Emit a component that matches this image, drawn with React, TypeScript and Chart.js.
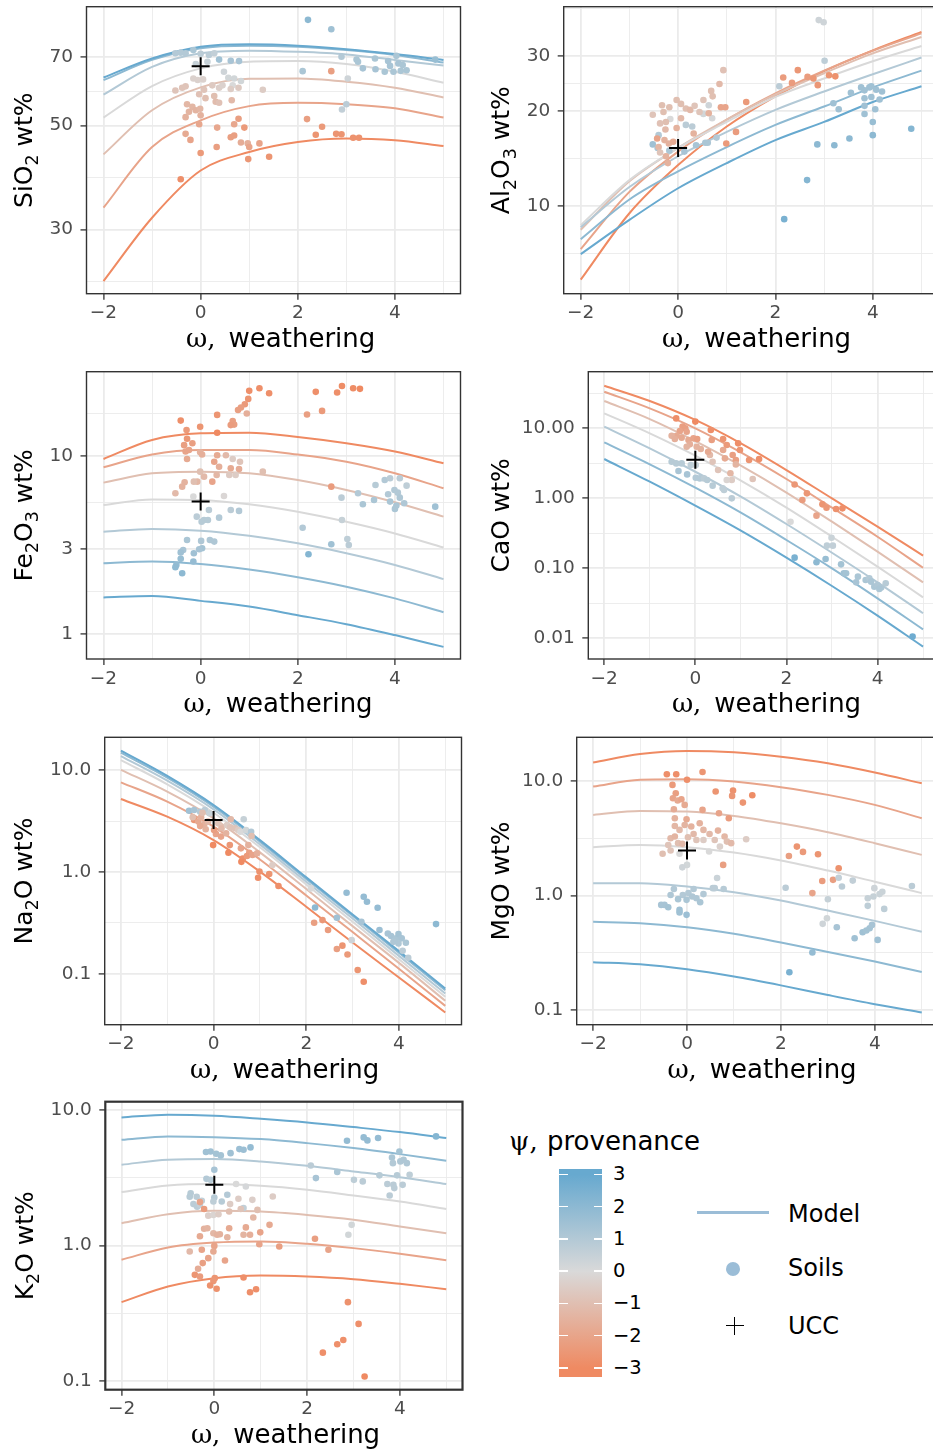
import React, { useEffect, useRef } from "react";
import { Chart, registerables } from "chart.js";
Chart.register(...registerables);

// ---------------- data ----------------
const OMEGA = [-2, -1, 0, 1, 2, 3, 4, 5];
const PSI_LEVELS = [-3, -2, -1, 0, 1, 2, 3];
const X_TICKS = [-2, -1, 0, 1, 2, 3, 4, 5];
const X_TICK_LABELS = ["\u22122", "", "0", "", "2", "", "4", ""];
const PSI_BAR_TICKS = [3, 2, 1, 0, -1, -2, -3];
const PSI_BAR_LABELS = ["3", "2", "1", "0", "\u22121", "\u22122", "\u22123"];
const UCC = [66.9, 15.3, 5.55, 3.55, 3.25, 2.47, 2.8];

// model curves: one row per PSI_LEVELS entry, one value per OMEGA entry
const SIO2_MODEL = [
  [23.3, 31.8, 40.1, 43.9, 46.1, 46.9, 46.5, 45.2],
  [33.4, 45.0, 51.3, 55.0, 55.9, 55.5, 54.4, 52.0],
  [43.4, 53.9, 60.3, 62.9, 63.0, 62.0, 60.2, 57.4],
  [52.0, 60.7, 66.2, 68.4, 68.6, 67.6, 65.1, 61.7],
  [58.2, 66.7, 71.3, 72.2, 71.8, 70.9, 69.0, 67.1],
  [62.5, 69.0, 73.1, 74.0, 73.6, 72.4, 70.7, 68.1],
  [63.3, 69.5, 73.6, 74.5, 74.0, 72.7, 71.0, 69.0],
];
const AL2O3_MODEL = [
  [5.85, 9.5, 13.5, 17.9, 22.3, 26.8, 31.2, 35.7],
  [7.31, 11.1, 14.9, 18.8, 22.8, 26.9, 31.1, 35.3],
  [8.42, 12.0, 15.3, 18.8, 22.6, 26.4, 30.5, 34.4],
  [8.71, 12.1, 15.3, 18.5, 22.2, 25.4, 28.8, 32.2],
  [8.58, 11.5, 14.4, 17.2, 20.2, 23.1, 26.2, 29.6],
  [7.86, 10.5, 12.9, 15.4, 18.1, 20.7, 23.8, 26.9],
  [7.05, 9.05, 11.4, 13.7, 16.2, 18.5, 21.4, 24.0],
];
const FE2O3_MODEL = [
  [9.62, 12.3, 13.4, 13.5, 12.8, 11.8, 10.6, 9.1],
  [8.64, 10.2, 10.8, 10.8, 10.2, 9.29, 8.0, 6.59],
  [7.09, 8.0, 8.17, 8.0, 7.33, 6.45, 5.5, 4.57],
  [5.31, 5.71, 5.67, 5.36, 4.87, 4.28, 3.68, 3.07],
  [3.76, 3.9, 3.81, 3.57, 3.24, 2.85, 2.45, 2.04],
  [2.5, 2.56, 2.48, 2.31, 2.09, 1.85, 1.59, 1.33],
  [1.61, 1.64, 1.54, 1.43, 1.28, 1.14, 0.99, 0.85],
];
const CAO_MODEL = [
  [40.7, 24.6, 13.2, 6.11, 2.54, 1.0, 0.394, 0.152],
  [33.4, 19.3, 10.0, 4.54, 1.89, 0.736, 0.283, 0.102],
  [24.6, 13.6, 6.59, 2.93, 1.21, 0.464, 0.173, 0.063],
  [16.4, 8.48, 4.07, 1.79, 0.736, 0.283, 0.106, 0.0385],
  [10.6, 5.18, 2.4, 1.06, 0.43, 0.167, 0.063, 0.0228],
  [6.31, 3.06, 1.42, 0.624, 0.254, 0.1, 0.0373, 0.0134],
  [3.65, 1.73, 0.786, 0.345, 0.142, 0.0559, 0.0211, 0.0076],
];
const NA2O_MODEL = [
  [5.22, 3.5, 2.06, 1.01, 0.456, 0.203, 0.092, 0.0417],
  [7.62, 4.92, 2.79, 1.33, 0.589, 0.257, 0.112, 0.0484],
  [10.1, 6.17, 3.37, 1.56, 0.681, 0.294, 0.128, 0.0543],
  [12.6, 7.28, 3.83, 1.75, 0.756, 0.325, 0.139, 0.0594],
  [13.8, 7.91, 4.13, 1.87, 0.803, 0.35, 0.15, 0.064],
  [14.9, 8.47, 4.39, 1.99, 0.853, 0.372, 0.161, 0.0691],
  [15.6, 8.8, 4.56, 2.06, 0.886, 0.383, 0.167, 0.0717],
];
const MGO_MODEL = [
  [14.4, 17.1, 18.2, 17.7, 16.2, 14.2, 11.8, 9.51],
  [8.9, 10.2, 10.3, 9.83, 8.78, 7.53, 6.16, 4.72],
  [5.04, 5.46, 5.39, 4.94, 4.26, 3.56, 2.86, 2.26],
  [2.64, 2.76, 2.64, 2.37, 2.02, 1.65, 1.32, 1.05],
  [1.28, 1.28, 1.2, 1.07, 0.905, 0.74, 0.602, 0.483],
  [0.59, 0.574, 0.53, 0.464, 0.39, 0.323, 0.266, 0.216],
  [0.263, 0.252, 0.228, 0.197, 0.165, 0.136, 0.113, 0.0957],
];
const K2O_MODEL = [
  [0.382, 0.498, 0.574, 0.6, 0.59, 0.564, 0.521, 0.476],
  [0.784, 0.967, 1.05, 1.07, 1.03, 0.956, 0.868, 0.779],
  [1.46, 1.7, 1.8, 1.78, 1.68, 1.55, 1.38, 1.23],
  [2.48, 2.77, 2.84, 2.76, 2.58, 2.34, 2.11, 1.86],
  [3.94, 4.29, 4.34, 4.17, 3.87, 3.52, 3.19, 2.84],
  [6.02, 6.38, 6.3, 6.09, 5.69, 5.23, 4.72, 4.22],
  [8.8, 9.21, 9.06, 8.61, 8.09, 7.47, 6.86, 6.2],
];

type Soil = [number, number, number]; // [omega, wt%, psi]

const SIO2_SOILS: Soil[] = [
  [2.21,84.0,2],[2.69,80.2,1.5],[-0.52,71.3,1],[-0.41,71.5,1],[-0.31,71.3,1],[-0.15,72.4,1.2],[0,71.1,0.8],[0.17,70.7,0.8],[0.28,71.3,0.6],[0.38,69.1,1.5],[0.62,68.7,1.3],[0.79,68.6,1.3],[-0.1,67.6,0.5],[0.14,68.4,0.5],[2.1,65.3,1.2],[2.69,65.3,-2.2],[3.03,63.0,0.3],[2.9,70.1,1],[3.21,69.1,1.2],[3.24,68.4,1.2],[3.34,66.2,1.3],[3.59,69.5,1.2],[3.6,65.9,1.3],[3.79,65.1,1.2],[3.86,68.6,1.3],[3.9,67.0,1.3],[3.97,65.1,1.2],[4.03,70.4,1.2],[4.07,67.8,1.3],[4.12,65.4,1.2],[4.16,67.3,1.2],[4.24,65.6,1.2],[4.83,69.1,1.7],[3.0,55.5,0.8],[2.91,54.1,0.6],[0.48,65.1,0.3],[0.57,63.2,0.2],[0.69,63.0,0.2],[0.83,62.2,0.2],[0.66,60.9,0],[-0.52,59.4,-0.8],[-0.38,60.2,-0.8],[-0.31,60.6,-0.8],[-0.15,63.0,-0.3],[-0.06,62.5,-0.3],[0.05,62.7,-0.3],[0.07,59.6,-0.8],[0.24,60.9,-0.6],[0.38,60.2,-0.4],[0.45,60.9,-0.3],[0.62,59.8,-0.5],[0.78,60.2,-0.6],[1.28,59.6,-0.5],[-0.03,58.3,-0.9],[0.1,57.2,-1],[0.28,57.8,-1],[0.31,56.2,-1.1],[0.38,55.9,-0.9],[0.64,56.6,-1.2],[-0.28,55.5,-1.3],[-0.17,54.8,-1.3],[-0.24,53.5,-1.4],[-0.31,52.1,-1.5],[-0.1,53.9,-1.4],[-0.01,54.3,-1.3],[0,52.6,-1.5],[-0.03,50.3,-1.9],[0.34,49.5,-1.9],[0.69,50.3,-1.9],[0.78,51.7,-2.2],[0.9,49.5,-2.4],[-0.31,48.0,-1.8],[-0.21,46.6,-2],[0.62,47.2,-2.2],[0.69,47.6,-2.2],[0.83,46.0,-1.7],[0.97,45.8,-1.6],[1.0,45.0,-2],[1.21,45.8,-2],[0.33,45.0,-2.2],[0,43.7,-2.4],[0.98,42.4,-2.5],[1.41,42.9,-2.6],[-0.41,38.4,-2.8],[2.19,51.6,-2.2],[2.5,49.7,-2.4],[2.37,47.8,-2.6],[2.79,48.0,-2.6],[2.9,47.9,-2.6],[3.14,47.1,-2.7],[3.26,47.1,-2.7],
];
const AL2O3_SOILS: Soil[] = [
  [2.89,38.9,0.3],[2.99,38.3,0.3],[3.01,28.9,0.7],[2.08,24.0,0.8],[3.19,21.2,1.5],[3.3,20.3,1.5],[3.55,22.9,1.5],[3.76,23.8,1.5],[3.83,23.3,1.5],[3.93,23.8,1.5],[3.97,24.0,1.5],[4.07,23.4,1.5],[4.19,23.1,1.5],[3.83,22.0,1.5],[3.97,22.2,1.5],[4.14,21.8,1.5],[4.05,20.3,1.5],[3.83,20.8,1.5],[3.83,19.6,1.5],[4.0,18.5,1.7],[4.0,16.8,2],[3.52,16.4,2],[3.21,15.6,2],[2.86,15.7,2],[4.79,17.6,2.2],[2.65,12.1,2.2],[2.18,9.1,2.5],
  [-0.52,15.7,1.5],[-0.42,15.3,1.3],[-0.4,16.8,1.0],[-0.18,15.0,1.2],[0.13,14.9,1.3],[0.16,18.1,0.8],[0.29,17.9,0.8],[0.37,15.6,1.3],[0.56,15.9,1.2],[0.61,15.9,1.2],[0.79,16.5,1.0],[0.63,20.9,0.3],[0.52,19.6,0.2],[0.7,19.0,0.1],[-0.16,18.9,0],
  [-0.52,19.5,-0.8],[-0.33,20.9,-1],[-0.3,19.9,-1],[-0.18,20.6,-1],[-0.25,18.5,-1],[-0.37,18.3,-0.9],[-0.26,17.5,-1.2],[-0.43,16.4,-2],[-0.28,16.2,-1.5],[-0.19,15.8,-1.5],[-0.25,14.4,-1.5],[-0.21,13.7,-1.5],[-0.03,21.7,-1],[0.06,21.1,-1],[0.16,20.4,-1],[0.25,20.2,-1.2],[0.34,20.8,-0.8],[0.44,19.9,-0.8],[0.52,21.7,-0.8],[0.68,23.2,-1],[0.71,22.3,-1],[0.85,24.4,-1.2],[0.93,27.0,-0.9],[0.88,20.6,-2],[0.97,20.6,-2],[0.99,15.8,-2.4],[1.19,17.2,-2.3],[1.4,21.4,-2.4],[-0.03,17.7,-1.5],[0.06,19.0,-1.2],[0.32,17.0,-1.5],[0.63,19.7,-1.5],[-0.1,16.0,-1.8],[-0.4,15.4,-1.3],[-0.37,14.8,-0.8],
  [2.16,25.6,-2.3],[2.34,24.6,-2.3],[2.46,27.0,-2.5],[2.66,25.7,-2.3],[2.78,25.4,-2.5],[2.87,24.2,-2.5],[3.1,26.0,-2.6],[3.23,25.8,-2.7],
];
const FE2O3_SOILS: Soil[] = [
  [1.0,23.2,-2.8],[1.21,24.0,-2.8],[1.41,22.5,-2.8],[0.98,20.9,-2.6],[0.91,19.5,-2.4],[0.83,18.7,-2.2],[0.77,18.1,-2.2],[0.95,17.3,-1.6],[0.66,15.7,-2.2],[0.69,15.0,-2.2],[0.62,14.9,-2.3],[0.34,17.0,-2.6],[-0.01,14.6,-2.6],[-0.41,15.8,-2.8],[-0.29,14.0,-2.4],[0.34,13.5,-3],
  [2.37,22.9,-2.8],[2.5,17.9,-2.4],[2.81,22.7,-2.8],[2.91,24.7,-2.9],[3.14,24.0,-2.9],[3.28,23.8,-3],[2.19,17.1,-2.2],[2.69,6.73,-2.3],
  [-0.34,11.5,-2.2],[-0.28,12.5,-2.5],[-0.17,11.8,-2.2],[-0.24,10.8,-2],[-0.31,10.6,-2],[-0.01,10.5,-1.5],[-0.28,9.62,-1.8],[0.03,10.2,-1.6],[0.34,10.1,-1.8],[0.52,10.1,-1.2],[0.28,9.29,-2],[0.38,8.71,-1.6],[0.62,8.53,-1.8],[0.79,8.46,-1.7],[0.66,9.62,-0.5],[0.81,9.29,-0.8],[0.33,7.83,-1.3],[0.07,7.66,-1.2],[-0.01,8.17,-1.0],[-0.07,7.18,-1.3],[-0.14,7.18,-1],[-0.33,7.12,-1.5],[-0.38,6.73,-1.5],[-0.52,6.18,-1.2],[0.24,7.18,-2],[1.28,8.17,-1.0],[0.59,7.83,-0.6],[0.72,7.83,-0.5],
  [-0.15,5.92,0],[0.48,5.97,-0.1],[0.62,4.98,0.8],[0.79,4.92,1.0],[0.17,4.98,0.8],[-0.08,4.57,0.8],[0.07,4.38,0.9],[0.15,4.38,0.9],[0.02,4.28,0.9],[0.38,4.51,1.0],[-0.28,3.38,1.2],[0.01,3.34,1.1],[0.19,3.38,1.1],[0.28,3.31,1.1],[0.03,3.04,1.4],[-0.03,3.0,1.3],[-0.14,2.85,1.5],[-0.36,2.97,1.3],[-0.41,2.88,1.5],[-0.41,2.65,1.7],[-0.5,2.45,1.8],[-0.52,2.38,1.9],[-0.38,2.2,2.0],[-0.15,2.56,1.8],
  [3.79,7.33,1.0],[3.9,7.5,0.8],[3.6,6.88,0.9],[4.1,7.5,0.8],[4.24,6.82,0.7],[3.86,6.1,1.0],[3.99,6.45,1.0],[4.06,6.23,1.0],[4.1,5.84,1.1],[3.9,5.55,1.2],[4.03,5.27,1.2],[4.0,5.05,1.2],[4.19,5.43,1.1],[3.57,5.67,1.2],[3.34,5.36,1.2],[3.24,6.18,1.0],[2.9,5.84,0.8],[4.83,5.2,1.5],[2.1,3.96,1.0],[2.91,4.38,0.5],[2.69,3.2,1.5],[3.02,3.42,0.7],[3.05,3.17,0.8],[2.22,2.81,2.2],
];
const CAO_SOILS: Soil[] = [
  [-0.42,13.9,-2.8],[0,12.5,-3],[-0.28,10.6,-2.2],[-0.22,10.0,-2.2],[-0.19,8.96,-2],[-0.34,9.16,-2],[-0.41,7.86,-1.8],[-0.52,7.86,-1.5],[-0.45,7.04,-1.6],[-0.3,7.36,-1.8],[-0.15,6.81,-1.8],[-0.04,7.2,-2],[0.04,7.04,-2.2],[-0.12,5.91,-1.6],[-0.19,5.47,-1.4],[0.03,5.47,-1.5],[0.12,5.07,-1.5],[0.34,9.47,-2.8],[0.36,6.81,-2.2],[0.61,7.04,-2.6],[0.69,5.78,-2.4],[0.61,4.9,-1.8],[0.94,6.11,-2.8],[0.98,4.9,-2.6],[0.82,4.16,-2.2],[0.32,4.16,-1.2],[0.28,4.64,-1.8],[0.65,3.73,-1.8],[0.89,3.53,-2.2],[0.89,3.06,-1.4],[1.18,3.53,-2.6],[1.4,3.65,-2.8],[0.38,3.34,-0.8],[0.5,2.54,-0.8],[0.77,2.28,-1.3],[1.26,1.89,-0.8],[0.8,1.83,-0.5],[0.69,1.83,-0.2],
  [-0.52,3.34,0.9],[-0.42,3.16,0.9],[-0.3,3.16,0.9],[-0.37,2.46,1.3],[-0.18,2.2,1.3],[-0.1,2.99,0.7],[0.01,2.99,0.5],[0.01,1.97,1.0],[0.1,1.93,1.0],[0.19,1.93,0.8],[0.26,1.83,0.9],[0.38,1.52,0.9],[0.6,1.39,0.7],[0.63,1.32,0.7],[0.8,1.0,0.8],
  [2.18,1.58,-2.5],[2.35,0.947,-2.3],[2.45,1.18,-2.5],[2.66,0.566,-2.0],[2.79,0.821,-2.6],[2.88,0.736,-2.5],[3.09,0.704,-2.7],[3.23,0.72,-2.8],
  [2.09,0.464,0.0],[2.18,0.142,2.5],[2.66,0.122,2.0],[2.86,0.136,1.7],[2.89,0.211,0.7],[2.99,0.274,0.4],[3.02,0.211,0.6],[3.2,0.114,1.4],[3.26,0.0848,1.5],[3.31,0.0848,1.4],[3.53,0.063,1.3],[3.57,0.076,1.2],[3.74,0.068,1.2],[3.82,0.072,1.0],[3.86,0.0645,1.2],[3.93,0.0547,1.2],[4.0,0.0578,1.1],[4.08,0.053,1.1],[4.18,0.061,0.9],[4.77,0.0106,2.8],[4.04,0.0508,1.2],
];
const NA2O_SOILS: Soil[] = [
  [-0.53,4.01,1.5],[-0.42,4.07,1.3],[-0.29,3.92,1.0],[-0.19,4.07,0.8],[-0.09,3.78,0.5],[-0.42,3.25,-2.5],[-0.33,3.13,-1.8],[-0.27,3.45,-1.5],[-0.2,2.97,-1.5],[-0.12,3.13,-1.2],[-0.45,3.45,-1.0],[-0.29,2.83,-1.8],[-0.17,2.63,-1.5],[-0.24,3.83,-1.0],[0.1,3.01,-0.8],[0.17,2.69,-1.2],[0.29,2.9,-0.5],[0.37,3.3,-1.2],[0.36,2.75,-0.8],[0.46,2.69,-0.8],[0.53,2.59,-0.5],[0.58,2.49,0.0],[0.65,3.3,0.5],[0.7,2.59,0.2],[0.81,2.49,1.0],[0.82,2.26,-1.0],[0.05,2.37,-2.0],[0.16,2.23,-2.0],[0.27,2.4,-1.5],[0.01,2.59,-2.2],[-0.01,1.84,-3],[0.35,1.84,-2.5],[0.32,1.55,-3],[0.59,1.71,-2],[0.75,1.84,-1.5],[0.77,1.55,-2.2],[0.63,1.36,-2.8],[0.72,1.44,-2.4],[0.84,1.47,-2.0],[0.94,1.53,-1.6],[0.6,1.26,-3],[0.99,1.01,-2.7],[0.96,0.88,-2.8],[1.2,0.956,-2.6],[1.4,0.728,-2.8],[1.27,1.17,-0.5],
  [2.1,0.691,0.0],[2.19,0.449,2.0],[2.17,0.317,-2.2],[2.35,0.337,-2.5],[2.47,0.269,-2.3],[2.66,0.355,1.5],[2.66,0.175,-2.2],[2.78,0.189,-2.6],[2.89,0.155,-2.4],[2.87,0.626,1.8],[2.98,0.214,0.3],[3.11,0.109,-2.6],[3.24,0.0834,-2.8],[3.19,0.325,1.3],[3.24,0.572,1.8],[3.31,0.511,1.8],[3.54,0.446,1.8],[3.58,0.269,1.6],[3.76,0.249,1.3],[3.83,0.235,1.3],[3.94,0.223,1.2],[3.99,0.246,1.4],[4.06,0.223,1.3],[3.88,0.206,1.1],[3.99,0.199,1.1],[4.15,0.202,1.2],[4.08,0.168,0.8],[4.2,0.144,0.8],[4.8,0.308,2.0],
];
const MGO_SOILS: Soil[] = [
  [-0.43,11.4,-2.8],[-0.23,11.4,-2.8],[0,10.2,-2.8],[0.33,11.9,-2.6],[-0.31,9.2,-2.4],[-0.24,7.78,-2.2],[-0.3,7.04,-2.0],[-0.2,6.72,-1.8],[-0.12,6.9,-2.0],[-0.05,6.16,-1.8],[-0.28,5.65,-1.7],[0.33,5.57,-2.0],[0.61,8.05,-2.6],[0.98,8.21,-2.7],[0.96,7.38,-2.5],[1.19,6.45,-2.6],[1.39,7.48,-2.9],[0.68,5.21,-2.0],[0.89,4.72,-2.3],
  [-0.26,4.72,-1.5],[-0.01,4.62,-1.8],[-0.26,4.04,-1.3],[-0.05,4.12,-1.4],[-0.16,3.73,-1.2],[0.09,3.99,-1.5],[0.27,4.26,-1.5],[0.35,3.73,-1.3],[0.14,3.44,-1.2],[0.02,3.22,-1.0],[-0.35,3.16,-1.2],[-0.26,3.27,-1.4],[-0.4,2.76,-0.8],[-0.19,2.86,-1.0],[-0.52,2.31,-1.0],[-0.35,2.47,-0.8],[-0.1,2.82,-1.2],[0.2,3.05,-0.8],[0.48,3.44,-1.2],[0.59,3.05,-0.8],[0.66,3.68,-1.5],[0.8,3.27,-1.3],[0.85,2.95,-1.0],[0.94,2.86,-1.2],[1.26,3.09,-0.5],[0.35,3.05,-0.5],[0.7,2.67,-0.3],[0.47,2.42,0],[0.77,1.85,-2.2],[-0.16,2.31,0.0],[0,1.85,0.2],[-0.1,1.76,0.3],
  [0.64,1.42,0.4],[0.55,1.16,0.8],[0.59,1.16,0.8],[0.78,1.14,0.9],[-0.28,1.14,1.0],[0.14,1.14,1.0],[0.35,1.03,1.0],[-0.35,1.01,1.1],[-0.09,1.01,1.0],[0.03,1.05,1.0],[0.11,0.98,1.1],[0.2,0.948,1.1],[-0.01,0.917,1.2],[0.28,0.875,1.2],[-0.19,0.93,1.2],[-0.55,0.829,1.3],[-0.48,0.829,1.3],[-0.4,0.791,1.4],[-0.16,0.75,1.5],[-0.16,0.711,1.5],[-0.01,0.679,1.6],
  [2.17,2.21,-2.2],[2.34,2.67,-2.6],[2.47,2.4,-2.4],[2.79,2.29,-2.6],[3.23,1.73,-2.7],[2.88,1.34,-2.3],[3.11,1.37,-2.2],[2.67,1.05,-2.0],[2.1,1.17,0.8],[3.23,1.43,0.6],[3.3,1.2,0.8],[3.53,1.35,0.6],[3.0,0.929,0.5],[2.89,0.567,0.3],[2.98,0.635,0.2],[3.19,0.53,1.3],[2.67,0.319,1.8],[2.18,0.215,2.5],[3.57,0.425,1.5],[3.74,0.479,1.5],[3.82,0.496,1.4],[3.89,0.519,1.4],[3.94,0.555,1.3],[3.85,0.948,0.5],[3.99,1.16,0.3],[4.1,1.03,0.4],[4.16,1.08,0.4],[3.85,0.813,0.7],[4.2,0.765,0.7],[4.06,0.411,1.5],[4.79,1.21,0.8],[3.97,0.98,0.5],
];
const K2O_SOILS: Soil[] = [
  [-0.18,4.89,1.5],[-0.08,4.94,1.5],[0.04,4.75,1.4],[0.14,4.62,1.4],[0.35,4.8,1.5],[0.54,5.14,1.6],[0.63,5.08,1.6],[0.78,5.29,1.8],[0,3.62,1.3],[-0.17,3.1,1.0],[-0.08,3.05,0.9],[0.47,2.84,0.0],[0.68,2.72,0.1],
  [-0.51,2.43,0.9],[-0.53,2.29,0.9],[-0.38,2.29,0.8],[-0.27,2.14,0.6],[-0.45,2.02,0.8],[-0.37,1.93,0.8],[-0.31,2.0,0.6],[0,2.26,0.9],[-0.02,2.11,0.7],[0.16,2.11,0.9],[0.28,2.37,1.0],[0.63,1.89,0.6],[0.82,2.17,-0.4],[1.26,2.3,-0.5],[0.52,2.21,-0.5],[0.34,2.02,-0.5],[-0.31,2.09,-2.0],[-0.22,1.86,-2.3],
  [-0.13,1.66,-0.4],[-0.02,1.68,-0.2],[0.09,1.7,-0.5],[0.32,1.78,-1.0],[0.57,1.86,-0.8],[0.93,1.83,-1.0],[0.84,1.61,-1.3],[1.19,1.42,-1.8],[0.99,1.25,-2.0],[0.68,1.36,-1.8],[0.32,1.34,-1.8],[0.12,1.21,-1.5],[-0.22,1.33,-1.5],[-0.15,1.34,-1.4],[-0.31,1.17,-1.8],[-0.02,1.23,-1.3],[0.06,1.2,-1.5],[0.28,1.15,-1.4],[0.63,1.2,-1.4],[0.77,1.2,-1.6],[0.97,1.02,-2.0],[1.4,0.983,-2.2],[-0.27,0.929,-2.0],[0,0.993,-2.0],[-0.02,0.903,-1.8],[-0.13,0.806,-2.0],[-0.25,0.741,-2.2],[0.23,0.775,-2.0],[-0.35,0.673,-1.7],[-0.42,0.607,-2.6],[-0.31,0.59,-2.3],[0.01,0.574,-2.6],[-0.02,0.548,-2.5],[-0.09,0.507,-2.7],[0.05,0.479,-2.7],[0.63,0.58,-2.8],[0.77,0.452,-2.8],[0.9,0.476,-2.8],[-0.53,0.903,-1.2],
  [2.08,3.89,0.8],[2.19,3.14,1.3],[2.65,3.48,1.2],[2.86,5.92,1.8],[3.22,6.27,1.8],[3.3,5.96,1.8],[3.53,6.2,1.8],[4.78,6.38,2.2],[3.83,4.46,1.2],[3.85,4.05,1.0],[3.99,4.94,1.4],[4.01,4.17,1.1],[4.08,4.29,1.1],[4.15,4.05,1.1],[4.21,3.32,0.7],[3.56,3.29,0.9],[3.01,3.05,0.7],[3.2,2.97,0.8],[3.73,2.84,0.8],[3.86,2.8,0.8],[3.94,3.29,0.9],[3.78,2.34,0.8],[4.06,2.8,0.8],[3.88,2.65,0.8],[2.96,1.42,0.2],[2.89,1.2,0.2],[2.17,1.12,-2.2],[2.46,0.929,-2.0],[2.88,0.382,-2.7],[3.11,0.264,-2.8],[2.34,0.162,-2.8],[2.65,0.187,-2.8],[2.78,0.201,-2.8],[3.24,0.108,-3.0],
];

const SIO2_TICKS = [30, 50, 70];
const SIO2_TICK_LABELS = ["30", "50", "70"];
const AL2O3_TICKS = [10, 20, 30];
const AL2O3_TICK_LABELS = ["10", "20", "30"];
const FE2O3_TICKS = [1, 3, 10];
const FE2O3_TICK_LABELS = ["1", "3", "10"];
const CAO_TICKS = [0.01, 0.1, 1, 10];
const CAO_TICK_LABELS = ["0.01", "0.10", "1.00", "10.00"];
const DEC_TICKS = [0.1, 1, 10];
const DEC_TICK_LABELS = ["0.1", "1.0", "10.0"];

// ---------------- styling helpers ----------------
const LOW = [239, 138, 98];
const MID = [217, 217, 217];
const HIGH = [103, 169, 207];
function psiColor(p: number) {
  const t = Math.max(-1, Math.min(1, p / 3));
  const b = t < 0 ? LOW : HIGH;
  const u = Math.abs(t);
  const c = MID.map((v, i) => Math.round(v + (b[i] - v) * u));
  return `rgb(${c[0]},${c[1]},${c[2]})`;
}

function logMinorBreaks(majors: number[], min: number, max: number) {
  let b = majors.map((m) => Math.log10(m));
  const bd = b[1] - b[0];
  if (Math.log10(min) < b[0]) b = [b[0] - bd, ...b];
  if (Math.log10(max) > b[b.length - 1]) b = [...b, b[b.length - 1] + bd];
  const out: number[] = [];
  for (let i = 0; i < b.length - 1; i++) out.push(Math.pow(10, (b[i] + b[i + 1]) / 2));
  return out.filter((v) => v > min && v < max);
}

const SANS = '"DejaVu Sans"';
const SERIF = '"DejaVu Serif"';
const GRID = "#ebebeb";
const DARK = "#333333";

type Part = { t: string; sub?: boolean };
interface PanelSpec {
  yParts: Part[];
  model: number[][];
  soils: Soil[];
  ucc: number;
  majors: number[];
  majorLabels: string[];
  ymin: number;
  ymax: number;
  box: [number, number, number, number];
  col: number;
  yTitleX: number;
  xTitleCx: number;
  borderW: number;
}

const PANELS: PanelSpec[] = [
  { yParts: [{ t: "SiO" }, { t: "2", sub: true }, { t: " wt%" }], model: SIO2_MODEL, soils: SIO2_SOILS, ucc: UCC[0], majors: SIO2_TICKS, majorLabels: SIO2_TICK_LABELS, ymin: 21.9, ymax: 89.6, box: [86.5, 6.7, 460.5, 293.7], col: 0, yTitleX: 31.5, xTitleCx: 280.7, borderW: 1.4 },
  { yParts: [{ t: "Al" }, { t: "2", sub: true }, { t: "O" }, { t: "3", sub: true }, { t: " wt%" }], model: AL2O3_MODEL, soils: AL2O3_SOILS, ucc: UCC[1], majors: AL2O3_TICKS, majorLabels: AL2O3_TICK_LABELS, ymin: 5.28, ymax: 42.9, box: [563.7, 6.7, 938.5, 293.7], col: 466, yTitleX: 509.2, xTitleCx: 756.5, borderW: 1.4 },
  { yParts: [{ t: "Fe" }, { t: "2", sub: true }, { t: "O" }, { t: "3", sub: true }, { t: " wt%" }], model: FE2O3_MODEL, soils: FE2O3_SOILS, ucc: UCC[2], majors: FE2O3_TICKS, majorLabels: FE2O3_TICK_LABELS, ymin: 0.727, ymax: 29.7, box: [86.5, 371.7, 460.5, 659], col: 0, yTitleX: 31.5, xTitleCx: 278, borderW: 1.4 },
  { yParts: [{ t: "CaO wt%" }], model: CAO_MODEL, soils: CAO_SOILS, ucc: UCC[3], majors: CAO_TICKS, majorLabels: CAO_TICK_LABELS, ymin: 0.00506, ymax: 64.6, box: [588.3, 371.7, 939, 659], col: 466, yTitleX: 509.2, xTitleCx: 766.5, borderW: 1.4 },
  { yParts: [{ t: "Na" }, { t: "2", sub: true }, { t: "O wt%" }], model: NA2O_MODEL, soils: NA2O_SOILS, ucc: UCC[4], majors: DEC_TICKS, majorLabels: DEC_TICK_LABELS, ymin: 0.0316, ymax: 21.1, box: [104.7, 737.3, 461.5, 1024.7], col: 0, yTitleX: 31.5, xTitleCx: 284.7, borderW: 1.4 },
  { yParts: [{ t: "MgO wt%" }], model: MGO_MODEL, soils: MGO_SOILS, ucc: UCC[5], majors: DEC_TICKS, majorLabels: DEC_TICK_LABELS, ymin: 0.075, ymax: 23.9, box: [576.7, 737.3, 938.2, 1024.7], col: 466, yTitleX: 509.2, xTitleCx: 762, borderW: 1.4 },
  { yParts: [{ t: "K" }, { t: "2", sub: true }, { t: "O wt%" }], model: K2O_MODEL, soils: K2O_SOILS, ucc: UCC[6], majors: DEC_TICKS, majorLabels: DEC_TICK_LABELS, ymin: 0.0863, ymax: 11.5, box: [105.3, 1101.7, 462.5, 1389.7], col: 0, yTitleX: 32.5, xTitleCx: 285.5, borderW: 2.2 },
];

function makeDecor(spec: PanelSpec, cl: number) {
  return {
    id: "panelDecor",
    afterDatasetsDraw(chart: any) {
      const ctx = chart.ctx;
      const a = chart.chartArea;
      ctx.save();
      ctx.strokeStyle = DARK;
      ctx.lineWidth = spec.borderW;
      ctx.strokeRect(a.left, a.top, a.right - a.left, a.bottom - a.top);
      ctx.restore();
    },
    afterDraw(chart: any) {
      const ctx = chart.ctx;
      const a = chart.chartArea;
      ctx.save();
      ctx.fillStyle = "#000";
      ctx.textBaseline = "alphabetic";
      ctx.textAlign = "left";
      // x title: "ω,  weathering"
      const fSerif = `26px ${SERIF}`;
      const fSans = `26px ${SANS}`;
      ctx.font = fSerif;
      const w1 = ctx.measureText("ω,").width;
      ctx.font = fSans;
      const gap = 13;
      const w2 = ctx.measureText("weathering").width;
      const x0 = spec.xTitleCx - cl - (w1 + gap + w2) / 2;
      const yb = a.bottom + 53;
      ctx.font = fSerif;
      ctx.fillText("ω,", x0, yb);
      ctx.font = fSans;
      ctx.fillText("weathering", x0 + w1 + gap, yb);
      // y title with subscripts
      ctx.translate(spec.yTitleX - cl, (a.top + a.bottom) / 2);
      ctx.rotate(-Math.PI / 2);
      const widths = spec.yParts.map((p) => {
        ctx.font = `${p.sub ? 17.5 : 25}px ${SANS}`;
        return ctx.measureText(p.t).width;
      });
      let x = -widths.reduce((s, w) => s + w, 0) / 2;
      spec.yParts.forEach((p, i) => {
        ctx.font = `${p.sub ? 17.5 : 25}px ${SANS}`;
        ctx.fillText(p.t, x, p.sub ? 6.5 : 0);
        x += widths[i];
      });
      ctx.restore();
    },
  };
}

function zeroPad(s: any) {
  s.paddingLeft = 0;
  s.paddingRight = 0;
  s.paddingTop = 0;
  s.paddingBottom = 0;
}

function Panel({ spec }: { spec: PanelSpec }) {
  const ref = useRef<HTMLCanvasElement>(null);
  const [L, T, R, B] = spec.box;
  const cl = spec.col;
  const ct = Math.floor(T) - 26;
  const cw = Math.ceil(R) + 6 - cl;
  const ch = Math.ceil(B) + 64 - ct;

  useEffect(() => {
    const canvas = ref.current;
    if (!canvas) return;
    const minors = logMinorBreaks(spec.majors, spec.ymin, spec.ymax);
    const yTicks = [...spec.majors.filter((v) => v > spec.ymin && v < spec.ymax), ...minors].sort((a, b) => a - b);
    const isMajorY = (v: number) => spec.majors.some((m) => Math.abs(m - v) < 1e-9 * Math.max(1, m));
    const isMajorX = (v: number) => Math.abs(v % 2) < 1e-9;

    const datasets: any[] = [];
    datasets.push({
      label: "UCC",
      data: [{ x: 0, y: spec.ucc }],
      pointStyle: "cross",
      pointRadius: 9,
      pointBorderColor: "#000",
      pointBorderWidth: 2,
      showLine: false,
      order: 0,
    });
    datasets.push({
      label: "Soils",
      data: spec.soils.map((s) => ({ x: s[0], y: s[1] })),
      pointRadius: 3.3,
      pointBackgroundColor: spec.soils.map((s) => psiColor(s[2])),
      pointBorderWidth: 0,
      pointBorderColor: "rgba(0,0,0,0)",
      showLine: false,
      order: 1,
    });
    PSI_LEVELS.forEach((psi, i) => {
      datasets.push({
        label: "Model " + psi,
        data: OMEGA.map((w, j) => ({ x: w, y: spec.model[i][j] })),
        showLine: true,
        borderColor: psiColor(psi),
        borderWidth: 2,
        pointRadius: 0,
        cubicInterpolationMode: "monotone",
        fill: false,
        order: 10 + (3 - psi),
      });
    });

    const tickFont = { family: SANS, size: 18.5 };
    const chart = new Chart(canvas, {
      type: "scatter",
      data: { datasets },
      options: {
        responsive: false,
        animation: false,
        events: [],
        devicePixelRatio: 1,
        layout: { autoPadding: false, padding: { left: 0, top: T - ct, right: cl + cw - R, bottom: 0 } },
        plugins: { legend: { display: false }, tooltip: { enabled: false } },
        scales: {
          x: {
            type: "linear",
            min: -2.35,
            max: 5.35,
            bounds: "data",
            afterBuildTicks: (s: any) => {
              s.ticks = X_TICKS.map((v) => ({ value: v }));
            },
            afterFit: (s: any) => {
              s.height = ct + ch - B;
              zeroPad(s);
            },
            ticks: {
              autoSkip: false,
              maxRotation: 0,
              minRotation: 0,
              padding: 2.6,
              color: "#4d4d4d",
              font: tickFont,
              callback: (v: any) => {
                const i = X_TICKS.indexOf(Number(v));
                return i >= 0 ? X_TICK_LABELS[i] : "";
              },
            },
            grid: {
              color: GRID,
              lineWidth: (c: any) => (c.tick && isMajorX(c.tick.value) ? 1.8 : 0.9),
              tickLength: 6,
              tickColor: (c: any) => (c.tick && isMajorX(c.tick.value) ? DARK : "rgba(0,0,0,0)"),
              tickWidth: 1.3,
            },
            border: { display: false },
          },
          y: {
            type: "logarithmic",
            min: spec.ymin,
            max: spec.ymax,
            bounds: "data",
            afterBuildTicks: (s: any) => {
              s.ticks = yTicks.map((v) => ({ value: v }));
            },
            afterFit: (s: any) => {
              s.width = L - cl;
              zeroPad(s);
            },
            ticks: {
              autoSkip: false,
              padding: 7.5,
              color: "#4d4d4d",
              font: tickFont,
              callback: (v: any) => {
                const n = Number(v);
                const i = spec.majors.findIndex((m) => Math.abs(m - n) < 1e-9 * Math.max(1, m));
                return i >= 0 ? spec.majorLabels[i] : "";
              },
            },
            grid: {
              color: GRID,
              lineWidth: (c: any) => (c.tick && isMajorY(c.tick.value) ? 1.8 : 0.9),
              tickLength: 6,
              tickColor: (c: any) => (c.tick && isMajorY(c.tick.value) ? DARK : "rgba(0,0,0,0)"),
              tickWidth: 1.3,
            },
            border: { display: false },
          },
        },
      } as any,
      plugins: [makeDecor(spec, cl)],
    });
    return () => chart.destroy();
  }, []);

  return (
    <canvas
      ref={ref}
      width={cw}
      height={ch}
      style={{ position: "absolute", left: cl, top: ct, width: cw, height: ch }}
    />
  );
}

function Legend() {
  const tickY = (p: number) => 1174.3 + (3 - p) * 32.28;
  const barTop = 1168.5;
  const barBottom = 1377;
  const pct = (y: number) => ((y - barTop) / (barBottom - barTop)) * 100;
  const grad = `linear-gradient(to bottom, ${psiColor(3)} 0%, ${psiColor(3)} ${pct(tickY(3))}%, ${psiColor(0)} ${pct(tickY(0))}%, ${psiColor(-3)} ${pct(tickY(-3))}%, ${psiColor(-3)} 100%)`;
  const keyColor = "#9bbdd7";
  const text = { position: "absolute" as const, fontFamily: SANS, color: "#000", whiteSpace: "nowrap" as const };
  return (
    <>
      <div style={{ ...text, left: 509, top: 1126, fontSize: 26, lineHeight: "30px", fontFamily: SERIF }}>ψ,</div>
      <div style={{ ...text, left: 547, top: 1126, fontSize: 26, lineHeight: "30px" }}>provenance</div>
      <div style={{ position: "absolute", left: 559, top: barTop, width: 43, height: barBottom - barTop, background: grad }} />
      {PSI_BAR_TICKS.map((p, i) => (
        <React.Fragment key={p}>
          <div style={{ position: "absolute", left: 559, top: tickY(p) - 0.75, width: 8.5, height: 1.5, background: "#fff" }} />
          <div style={{ position: "absolute", left: 593.5, top: tickY(p) - 0.75, width: 8.5, height: 1.5, background: "#fff" }} />
          <div style={{ ...text, left: 613, top: tickY(p) - 12, height: 24, lineHeight: "24px", fontSize: 19.5 }}>{PSI_BAR_LABELS[i]}</div>
        </React.Fragment>
      ))}
      <div style={{ position: "absolute", left: 697, top: 1211.2, width: 72, height: 3.2, background: keyColor }} />
      <div style={{ ...text, left: 788, top: 1198.5, lineHeight: "30px", fontSize: 24 }}>Model</div>
      <div style={{ position: "absolute", left: 725.5, top: 1262, width: 14, height: 14, borderRadius: "50%", background: keyColor }} />
      <div style={{ ...text, left: 788, top: 1252.7, lineHeight: "30px", fontSize: 24 }}>Soils</div>
      <div style={{ position: "absolute", left: 725.5, top: 1324.7, width: 18, height: 1.6, background: "#000" }} />
      <div style={{ position: "absolute", left: 733.7, top: 1316.5, width: 1.6, height: 18, background: "#000" }} />
      <div style={{ ...text, left: 788, top: 1311, lineHeight: "30px", fontSize: 24 }}>UCC</div>
    </>
  );
}

export default function App() {
  return (
    <div style={{ position: "absolute", left: 0, top: 0, width: 933, height: 1452, overflow: "hidden", background: "#fff" }}>
      {PANELS.map((p, i) => (
        <Panel key={i} spec={p} />
      ))}
      <Legend />
    </div>
  );
}
